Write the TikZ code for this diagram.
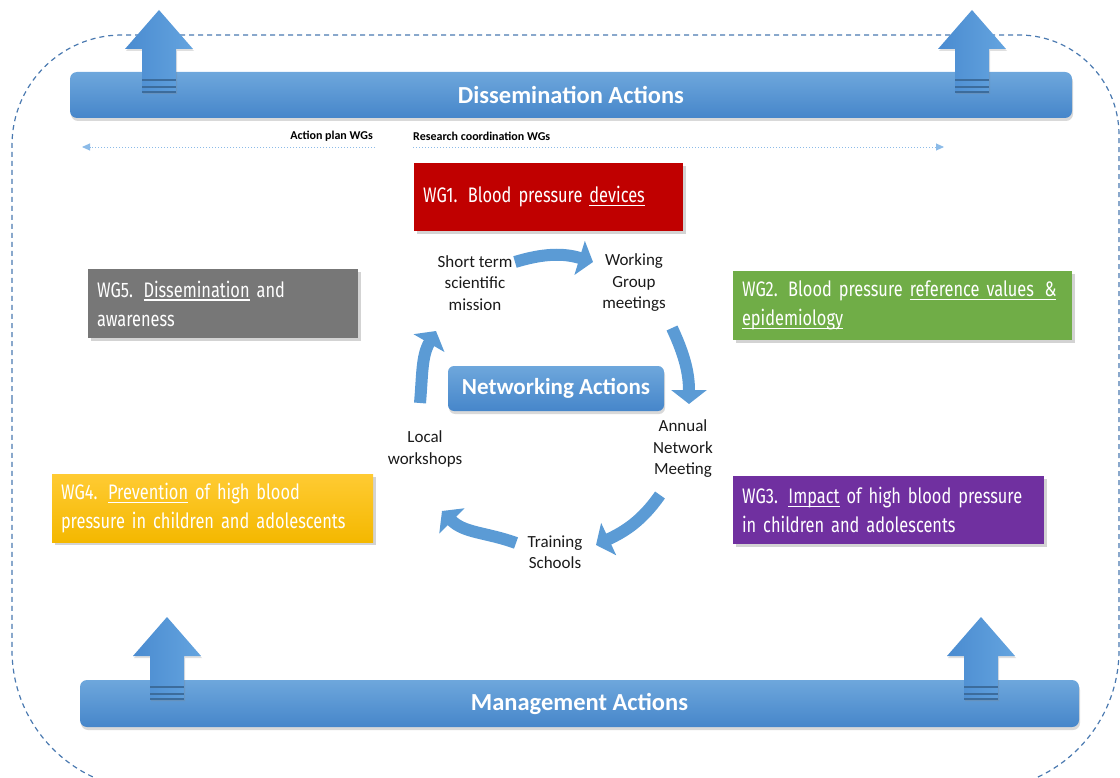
\documentclass[tikz,border=0pt]{standalone}
\usepackage{fontspec}
\setmainfont{Carlito}
\newfontfamily\wgf[FakeStretch=0.78]{Fira Sans}
\usetikzlibrary{arrows.meta,shadows}
\definecolor{barTop}{HTML}{6EA7DC}
\definecolor{barBot}{HTML}{4686CA}
\definecolor{arL}{HTML}{4A8BD0}
\definecolor{arR}{HTML}{64A4DF}
\definecolor{stripeC}{HTML}{3C6C9C}
\definecolor{frameC}{HTML}{4A79B0}
\definecolor{dotC}{HTML}{8CBBE8}
\definecolor{cycC}{HTML}{5B9BD5}
\definecolor{wgRed}{HTML}{C00000}
\definecolor{wgGray}{HTML}{777777}
\definecolor{wgGreen}{HTML}{70AD47}
\definecolor{wgYelTop}{HTML}{FFCB33}
\definecolor{wgYelBot}{HTML}{F4B800}
\definecolor{wgPurple}{HTML}{7030A0}
\definecolor{lblC}{HTML}{1A1A1A}
\newcommand\ulx[1]{\leavevmode\setbox0\hbox{#1}\rlap{\rule[-3.5pt]{\wd0}{1.1pt}}\box0{}}
\newcommand\wgtext{\wgf\fontsize{21}{29}\selectfont\hyphenpenalty=10000\relax}
\newcommand\bigarrow[2]{%
  \begin{scope}[shift={(#1,#2)}]
    \path[upar] (0,0) -- (34,39) -- (17,39) -- (17,82) -- (-17,82) -- (-17,39) -- (-34,39) -- cycle;
    \draw[stripe] (-17,70) -- (17,70);
    \draw[stripe] (-17,77) -- (17,77);
    \draw[stripe] (-17,82) -- (17,82);
  \end{scope}}
\begin{document}
\begin{tikzpicture}[x=1pt,y=-1pt,
  frame/.style={draw=frameC,line width=1.2pt,dash pattern=on 5pt off 4pt},
  dotarrow/.style={draw=dotC,line width=0.9pt,dash pattern=on 1.4pt off 1.6pt,-{Triangle[length=8pt,width=7pt]}},
  smalllbl/.style={font=\bfseries\fontsize{12}{14}\selectfont,text=black,inner sep=0pt},
  bar/.style={rounded corners=7pt,top color=barTop,bottom color=barBot,text=white,
    font=\bfseries\fontsize{24.5}{28}\selectfont,
    drop shadow={opacity=0.3,shadow xshift=1pt,shadow yshift=-3pt}},
  upar/.style={left color=arL,right color=arR,
    drop shadow={opacity=0.25,shadow xshift=1pt,shadow yshift=-2pt}},
  stripe/.style={draw=stripeC,line width=1.6pt},
  wgbox/.style={inner xsep=9pt,inner ysep=0pt,align=left,text=white,
    font=\wgtext,
    drop shadow={opacity=0.35,shadow xshift=3pt,shadow yshift=-3pt}},
  nbox/.style={rounded corners=6pt,top color=barTop,bottom color=barBot,text=white,
    minimum width=216pt,minimum height=45pt,inner sep=0pt,
    font=\bfseries\fontsize{23}{27}\selectfont,
    drop shadow={opacity=0.3,shadow xshift=1pt,shadow yshift=-3pt}},
  lbl/.style={font=\fontsize{17}{21.5}\selectfont,align=center,text=lblC,inner sep=0pt},
  cyc/.style={draw=cycC,line width=12pt,-{Triangle[length=14pt,width=35pt]}}
]
\useasboundingbox (0,0) rectangle (1120,778);

% outer dashed frame
\draw[frame] (12,400) [rounded corners=110pt] -- (12,35) -- (560,35)
  [rounded corners=100pt] -- (1119,35) -- (1119,400)
  [rounded corners=140pt] -- (1119,790) -- (12,790) -- (12,400);

% dotted arrows and their labels
\node[smalllbl,anchor=east] (apl) at (373,136) {Action plan WGs};
\node[smalllbl,anchor=west] (rcl) at (413,136) {Research coordination WGs};
\coordinate (dl1) at (375,147);
\coordinate (dl2) at (82,147);
\coordinate (dr1) at (413,147);
\coordinate (dr2) at (944,147);
\draw[dotarrow] (dl1) -- (dl2);
\draw[dotarrow] (dr1) -- (dr2);

% bars
\node[bar,minimum width=1002pt,minimum height=46pt] (dis) at (571,95) {Dissemination Actions};
\node[bar,minimum width=999pt,minimum height=47pt] (man) at (579.5,703.5) {Management Actions};

% big up arrows
\bigarrow{159}{10}
\bigarrow{972}{10}
\bigarrow{167}{617}
\bigarrow{981}{617}

% working group boxes
\node[wgbox,fill=wgRed,text width=251pt,minimum height=68pt] (wg1) at (548.5,197)
  {WG1. Blood pressure \ulx{devices}};
\node[wgbox,fill=wgGray,text width=252pt,minimum height=69pt] (wg5) at (223,303.5)
  {WG5. \ulx{Dissemination} and\\awareness};
\node[wgbox,fill=wgGreen,text width=321pt,minimum height=69pt] (wg2) at (902.5,305.5)
  {WG2. Blood pressure \ulx{reference values \,\&}\\\ulx{epidemiology}};
\node[wgbox,top color=wgYelTop,bottom color=wgYelBot,text width=303pt,minimum height=68pt] (wg4) at (212.5,508)
  {WG4. \ulx{Prevention} of high blood\\pressure in children and adolescents};
\node[wgbox,fill=wgPurple,text width=293pt,minimum height=68pt] (wg3) at (888.5,510)
  {WG3. \ulx{Impact} of high blood pressure\\in children and adolescents};

% networking cycle
\node[nbox] (net) at (556,388.5) {Networking Actions};
\node[lbl] (stm) at (475,283) {Short term\\scientific\\mission};
\node[lbl] (wgm) at (634,283) {Working\\Group\\meetings};
\node[lbl] (anm) at (683,449) {Annual\\Network\\Meeting};
\node[lbl] (trs) at (555,552) {Training\\Schools};
\node[lbl] (lws) at (425,449) {Local\\workshops};

\coordinate (a1s) at (515,262);
\coordinate (a1e) at (593,262);
\coordinate (a2s) at (672,328);
\coordinate (a2e) at (689,404);
\coordinate (a3s) at (660,495);
\coordinate (a3e) at (596,545);
\coordinate (a4s) at (516,543);
\coordinate (a4e) at (442,511);
\coordinate (a5s) at (420,403);
\coordinate (a5e) at (436,331);
\draw[cyc] (a1s) to[out=17,in=163] (a1e);
\draw[cyc] (a2s) to[out=-65,in=90] (a2e);
\draw[cyc] (a3s) to[out=-125,in=25] (a3e);
\draw[cyc] (a4s) to[out=160,in=-45] (a4e);
\draw[cyc] (a5s) to[out=85,in=-120] (a5e);
\end{tikzpicture}
\end{document}
